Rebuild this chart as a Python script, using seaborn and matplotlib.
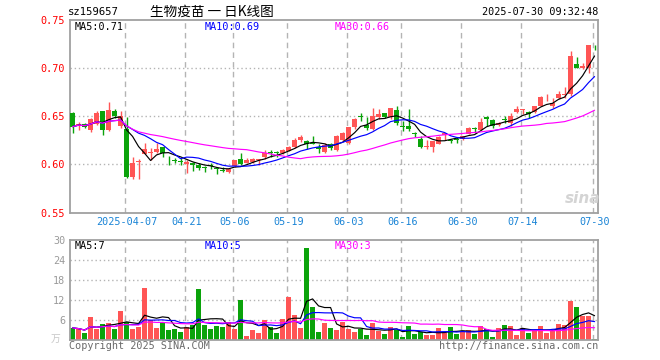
import numpy as np
import pandas as pd
import matplotlib
matplotlib.use("Agg")
import matplotlib.pyplot as plt
import seaborn as sns

# ---------------- data ----------------
opens = [0.6535, 0.6410, 0.6420, 0.6355, 0.6420, 0.6550, 0.6355, 0.6555, 0.6400, 0.6370,
         0.5865, 0.6025, 0.6107, 0.6120, 0.6127, 0.6175, 0.6055, 0.6035, 0.6033, 0.6003,
         0.6010, 0.5993, 0.5962, 0.5985, 0.5950, 0.5935, 0.5924, 0.5982, 0.6052, 0.6017,
         0.6027, 0.6048, 0.6072, 0.6122, 0.6125, 0.6117, 0.6141, 0.6176, 0.6251, 0.6245,
         0.6217, 0.6176, 0.6131, 0.6210, 0.6148, 0.6251, 0.6217, 0.6383, 0.6495, 0.6407,
         0.6362, 0.6493, 0.6528, 0.6486, 0.6562, 0.6385, 0.6397, 0.6315, 0.6259, 0.6176,
         0.6183, 0.6210, 0.6303, 0.6246, 0.6259, 0.6259, 0.6314, 0.6372, 0.6355, 0.6493,
         0.6459, 0.6407, 0.6466, 0.6424, 0.6545, 0.6567, 0.6538, 0.6538, 0.6607, 0.6703,
         0.6607, 0.6690, 0.6714, 0.6724, 0.7035, 0.7000, 0.7000, 0.7233]
highs = [0.6540, 0.6440, 0.6430, 0.6480, 0.6555, 0.6550, 0.6640, 0.6575, 0.6555, 0.6485,
         0.6080, 0.6055, 0.6220, 0.6165, 0.6217, 0.6178, 0.6085, 0.6060, 0.6062, 0.6045,
         0.6027, 0.6017, 0.5982, 0.6010, 0.5970, 0.5969, 0.5958, 0.6045, 0.6120, 0.6062,
         0.6069, 0.6055, 0.6148, 0.6148, 0.6141, 0.6155, 0.6190, 0.6269, 0.6303, 0.6252,
         0.6293, 0.6210, 0.6217, 0.6224, 0.6303, 0.6338, 0.6383, 0.6476, 0.6535, 0.6493,
         0.6580, 0.6569, 0.6530, 0.6580, 0.6603, 0.6452, 0.6569, 0.6338, 0.6293, 0.6252,
         0.6245, 0.6293, 0.6320, 0.6259, 0.6286, 0.6296, 0.6390, 0.6390, 0.6476, 0.6495,
         0.6466, 0.6434, 0.6500, 0.6528, 0.6607, 0.6570, 0.6552, 0.6607, 0.6710, 0.6724,
         0.6683, 0.6759, 0.6803, 0.7173, 0.7114, 0.7045, 0.7235, 0.7235]
lows = [0.6327, 0.6360, 0.6380, 0.6330, 0.6410, 0.6300, 0.6340, 0.6480, 0.6380, 0.5855,
        0.5845, 0.5845, 0.6105, 0.6045, 0.6113, 0.6080, 0.5990, 0.6015, 0.5993, 0.5906,
        0.5934, 0.5941, 0.5924, 0.5948, 0.5900, 0.5917, 0.5913, 0.5970, 0.5990, 0.6010,
        0.6017, 0.5993, 0.6055, 0.6079, 0.6079, 0.6110, 0.6134, 0.6165, 0.6234, 0.6155,
        0.6210, 0.6120, 0.6120, 0.6150, 0.6140, 0.6241, 0.6210, 0.6370, 0.6452, 0.6355,
        0.6355, 0.6466, 0.6476, 0.6470, 0.6407, 0.6348, 0.6348, 0.6286, 0.6170, 0.6155,
        0.6131, 0.6205, 0.6252, 0.6224, 0.6217, 0.6250, 0.6310, 0.6328, 0.6350, 0.6397,
        0.6380, 0.6400, 0.6424, 0.6400, 0.6528, 0.6517, 0.6483, 0.6530, 0.6600, 0.6655,
        0.6586, 0.6680, 0.6683, 0.6710, 0.6993, 0.6990, 0.6942, 0.7183]
closes = [0.6390, 0.6420, 0.6390, 0.6465, 0.6535, 0.6355, 0.6560, 0.6500, 0.6500, 0.5865,
          0.6017, 0.6035, 0.6155, 0.6122, 0.6155, 0.6120, 0.6050, 0.6033, 0.6025, 0.6027,
          0.5993, 0.5958, 0.5958, 0.5980, 0.5948, 0.5931, 0.5948, 0.6045, 0.6003, 0.6045,
          0.6052, 0.6052, 0.6120, 0.6120, 0.6117, 0.6148, 0.6180, 0.6251, 0.6279, 0.6210,
          0.6214, 0.6155, 0.6200, 0.6165, 0.6293, 0.6327, 0.6383, 0.6465, 0.6493, 0.6372,
          0.6500, 0.6521, 0.6486, 0.6580, 0.6424, 0.6383, 0.6369, 0.6314, 0.6176, 0.6190,
          0.6245, 0.6286, 0.6320, 0.6245, 0.6255, 0.6293, 0.6372, 0.6370, 0.6441, 0.6466,
          0.6397, 0.6424, 0.6462, 0.6500, 0.6572, 0.6569, 0.6517, 0.6604, 0.6700, 0.6707,
          0.6631, 0.6724, 0.6717, 0.7124, 0.7000, 0.7021, 0.7235, 0.7231]
volumes = [3.7, 3.3, 2.2, 7.0, 3.3, 4.9, 5.2, 3.3, 8.8, 5.4,
           3.5, 4.1, 15.7, 6.0, 3.7, 5.5, 3.1, 3.5, 2.5, 4.1,
           4.6, 15.4, 4.5, 3.5, 4.3, 4.1, 5.4, 3.4, 12.1, 1.3,
           3.1, 2.2, 6.1, 3.9, 2.2, 6.4, 13.0, 7.6, 3.7, 27.6,
           10.0, 2.5, 5.2, 3.7, 3.1, 5.5, 3.5, 2.6, 3.5, 1.6,
           5.2, 2.9, 1.9, 4.0, 3.1, 1.0, 4.3, 1.9, 2.5, 1.6,
           1.6, 3.7, 2.2, 4.0, 1.9, 2.5, 3.1, 1.9, 4.3, 3.4,
           1.0, 3.7, 4.6, 4.3, 1.6, 3.7, 2.2, 3.1, 4.3, 2.2,
           3.1, 4.9, 4.6, 11.8, 10.0, 7.3, 7.3, 0.4]
tick_pos = [9, 19, 27, 36, 46, 55, 65, 75, 87]
tick_labels = ["2025-04-07", "04-21", "05-06", "05-19", "06-03",
               "06-16", "06-30", "07-14", "07-30"]
price_ticks = [0.55, 0.60, 0.65, 0.70, 0.75]
price_tick_labels = ["0.55", "0.60", "0.65", "0.70", "0.75"]
vol_ticks = [6, 12, 18, 24, 30]
vol_tick_labels = ["6", "12", "18", "24", "30"]
title_code = "sz159657"
title_name = "生物疫苗 一 日K线图"
timestamp = "2025-07-30 09:32:48"
price_ma_text = ["MA5:0.71", "MA10:0.69", "MA30:0.66"]
vol_ma_text = ["MA5:7", "MA10:5", "MA30:3"]

# ---------------- styling ----------------
sns.set_style("white")
MONO = ["DejaVu Sans Mono"]
CJK = ["Noto Sans CJK SC", "DejaVu Sans"]
RED = "#ff5555"
GREEN = "#0ba30b"
GRID = "#b4b4b4"
FRAME = "#a0a0a0"
MA_COLORS = ["#000000", "#0000ff", "#ff00ff"]

df = pd.DataFrame({"open": opens, "high": highs, "low": lows,
                   "close": closes, "vol": volumes})
df["i"] = np.arange(len(df))
df["up"] = df["close"] >= df["open"]
df["color"] = np.where(df["up"], RED, GREEN)
for n in (5, 10, 30):
    df[f"ma{n}"] = df["close"].rolling(n, min_periods=1).mean()
    df[f"vma{n}"] = df["vol"].rolling(n, min_periods=1).mean()

W, H = 660, 360
fig = plt.figure(figsize=(W / 100, H / 100), dpi=100)
ax1 = fig.add_axes([70 / W, (H - 212.5) / H, 528 / W, 193 / H])
ax2 = fig.add_axes([70 / W, (H - 340.3) / H, 528 / W, 100.3 / H])

xlim = (-0.43, 87.57)
grid_x = [p - 0.3 for p in tick_pos]

for ax in (ax1, ax2):
    ax.set_xlim(*xlim)
    for s in ax.spines.values():
        s.set_color(FRAME)
        s.set_linewidth(1.3)
    for gx in grid_x:
        ax.axvline(gx, color=GRID, lw=1.0, ls=(0, (4, 3)), zorder=0)

# ---- price panel ----
ax1.set_ylim(0.55, 0.75)
for gy in (0.60, 0.65, 0.70):
    ax1.axhline(gy, color=GRID, lw=1.0, ls=(0, (1, 2)), zorder=0)
ax1.vlines(df["i"], df["low"], df["high"], colors=df["color"], lw=1.0, zorder=2)
body_h = np.maximum((df["close"] - df["open"]).abs(), 0.0009)
body_b = np.minimum(df["open"], df["close"])
ax1.bar(df["i"], body_h, bottom=body_b, width=0.82, color=df["color"],
        linewidth=0, zorder=3)
for n, c in zip((5, 10, 30), MA_COLORS):
    sns.lineplot(x=df["i"], y=df[f"ma{n}"], ax=ax1, color=c, lw=0.85, zorder=4)
ax1.set_yticks(price_ticks)
ax1.set_yticklabels(price_tick_labels, color="#ff0000", family=MONO, fontsize=7.3)
ax1.set_xticks(tick_pos)
ax1.set_xticklabels(tick_labels, color="#1a84d6", family=MONO, fontsize=7.3)
ax1.tick_params(length=0, pad=3.5)
ax1.set_xlabel("")
ax1.set_ylabel("")

for txt, c, x in zip(price_ma_text, MA_COLORS, (75, 205, 335)):
    fig.text(x / W, 1 - 27 / H, txt, color=c, family=MONO, fontsize=7.3,
             ha="left", va="center")

fig.text(583 / W, 1 - 198 / H, "sina", color="#d4d4d4", fontsize=11,
         fontweight="bold", style="italic", ha="center", va="center")

# ---- volume panel ----
ax2.set_ylim(0, 30)
for gy in (6, 12, 18, 24):
    ax2.axhline(gy, color=GRID, lw=1.0, ls=(0, (1, 2)), zorder=0)
ax2.bar(df["i"], df["vol"], width=0.86, color=df["color"], linewidth=0, zorder=2)
for n, c in zip((5, 10, 30), MA_COLORS):
    sns.lineplot(x=df["i"], y=df[f"vma{n}"], ax=ax2, color=c, lw=0.85, zorder=4)
ax2.set_yticks(vol_ticks)
ax2.set_yticklabels(vol_tick_labels, color="#9a9a9a", family=MONO, fontsize=7.3)
ax2.set_xticks([])
ax2.tick_params(length=0, pad=3.5)
ax2.set_xlabel("")
ax2.set_ylabel("")

for txt, c, x in zip(vol_ma_text, MA_COLORS, (75, 205, 335)):
    fig.text(x / W, 1 - 246 / H, txt, color=c, family=MONO, fontsize=7.3,
             ha="left", va="center")
fig.text(56 / W, 1 - 339 / H, "万", color="#c8c8c8", family=CJK, fontsize=7,
         ha="center", va="center")

fig.text(69 / W, 1 - 346 / H, "Copyright 2025 SINA.COM", color="#6a6a6a",
         family=MONO, fontsize=7.3, ha="left", va="center")
fig.text(598 / W, 1 - 346 / H, "http://finance.sina.com.cn", color="#6a6a6a",
         family=MONO, fontsize=7.3, ha="right", va="center")

# ---- header ----
fig.text(68 / W, 1 - 12 / H, title_code, color="#000000", family=MONO,
         fontsize=7.6, ha="left", va="center")
fig.text(150 / W, 1 - 12 / H, title_name, color="#000000", family=CJK,
         fontsize=9.8, ha="left", va="center")
fig.text(598 / W, 1 - 12 / H, timestamp, color="#000000", family=MONO,
         fontsize=7.3, ha="right", va="center")

fig.savefig("out.png", dpi=100)
